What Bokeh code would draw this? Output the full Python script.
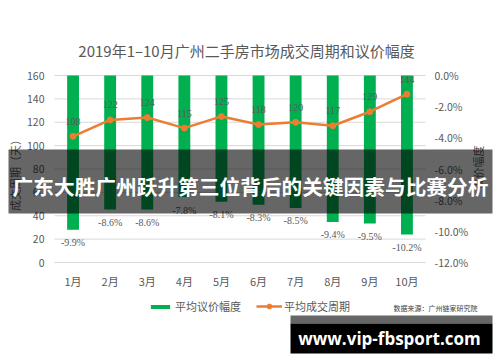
from bokeh.plotting import figure
from bokeh.models import (Range1d, LinearAxis, FixedTicker, NumeralTickFormatter, ColumnDataSource,
                          LabelSet, Label, BoxAnnotation, Legend, LegendItem, CustomJSTickFormatter)
from bokeh.embed import file_html
from bokeh.resources import INLINE

months = ["1月", "2月", "3月", "4月", "5月", "6月", "7月", "8月", "9月", "10月"]
cycle_days = [108, 122, 124, 115, 125, 118, 120, 117, 129, 144]
discount_pct = [-9.9, -8.6, -8.6, -7.8, -8.1, -8.3, -8.5, -9.4, -9.5, -10.2]
left_ticks = [0, 20, 40, 60, 80, 100, 120, 140, 160]
right_ticks = [-12, -10, -8, -6, -4, -2, 0]

title_text = "2019年1–10月广州二手房市场成交周期和议价幅度"
left_title = "成交周期（天）"
right_title = "议价幅度"
legend_bar = "平均议价幅度"
legend_line = "平均成交周期"
banner_text = "广东大胜广州跃升第三位背后的关键因素与比赛分析"
source_text = "数据来源：广州链家研究院"
watermark_text = "www.vip-fbsport.com"

FONT = "Noto Sans CJK SC"
GRAY = "#595959"
GREEN = "#00B050"
ORANGE = "#ED7D31"

W, H = 500, 362
# plot area inside the canvas (px)
PL, PR, PT, PB = 54, 425, 75, 262
n = len(months)
ux = (PR - PL) / n
uy = (PB - PT) / (left_ticks[-1] - left_ticks[0])
up = (PB - PT) / (right_ticks[-1] - right_ticks[0])

x_rng = Range1d(-PL / ux, n + (W - PR) / ux)
y_rng = Range1d(left_ticks[0] - (H - PB) / uy, left_ticks[-1] + PT / uy)
p_rng = Range1d((right_ticks[0] - (H - PB) / up) / 100, (right_ticks[-1] + PT / up) / 100)

src = ColumnDataSource(dict(
    x=[i + 0.5 for i in range(n)],
    cyc=cycle_days,
    disc=[d / 100 for d in discount_pct],
    cyc_lbl=[str(v) for v in cycle_days],
    disc_lbl=["%.1f%%" % d for d in discount_pct],
))

p = figure(width=W, height=H, x_range=x_rng, y_range=y_rng,
           output_backend="svg", toolbar_location=None,
           min_border_left=0, min_border_right=0, min_border_top=0, min_border_bottom=0)
p.outline_line_color = None
p.extra_y_ranges = {"pct": p_rng}
p.xgrid.visible = False
p.ygrid.visible = False

def style_axis(ax, size):
    ax.axis_line_color = None
    ax.major_tick_line_color = None
    ax.minor_tick_line_color = None
    ax.major_tick_out = 0
    ax.major_tick_in = 0
    ax.major_label_text_color = GRAY
    ax.major_label_text_font = FONT
    ax.major_label_text_font_size = size

xa = p.xaxis[0]
style_axis(xa, "11px")
xa.ticker = FixedTicker(ticks=[i + 0.5 for i in range(n)])
xa.formatter = CustomJSTickFormatter(args=dict(labels=months),
                                     code="return labels[Math.floor(tick)] || ''")
xa.major_label_standoff = -90

ya = p.yaxis[0]
style_axis(ya, "10.5px")
ya.ticker = FixedTicker(ticks=left_ticks)
ya.major_label_standoff = -44

rax = LinearAxis(y_range_name="pct", ticker=FixedTicker(ticks=[t / 100 for t in right_ticks]),
                 formatter=NumeralTickFormatter(format="0.0%"))
style_axis(rax, "10.5px")
rax.major_label_standoff = -66
p.add_layout(rax, "right")

# horizontal gridlines over the plot area only
p.segment(x0=0, x1=n, y0=left_ticks, y1=left_ticks, line_color="#D9D9D9", line_width=1)

bars = p.vbar(x="x", top=0, bottom="disc", width=0.32, source=src, y_range_name="pct",
              fill_color=GREEN, line_color=None)
line = p.line(x="x", y="cyc", source=src, line_color=ORANGE, line_width=2.5)
pts = p.scatter(x="x", y="cyc", source=src, size=6, fill_color=ORANGE, line_color=ORANGE)

p.add_layout(LabelSet(x="x", y="cyc", text="cyc_lbl", source=src, y_offset=15,
                      text_align="center", text_baseline="middle", text_font=FONT,
                      text_font_size="10px", text_color=GRAY))
p.add_layout(LabelSet(x="x", y="disc", text="disc_lbl", source=src, y_range_name="pct", y_offset=-13,
                      text_align="center", text_baseline="middle", text_font=FONT,
                      text_font_size="10px", text_color=GRAY))

def txt(x, y, text, size, color=GRAY, align="center", font=FONT, style="normal", angle=0):
    return Label(x=x, y=H - y, x_units="screen", y_units="screen", text=text,
                 text_align=align, text_baseline="middle", text_font=font,
                 text_font_size=size, text_font_style=style, text_color=color,
                 angle=angle, angle_units="deg")

# title and axis titles
p.add_layout(txt(246, 50, title_text, "15px"))
p.add_layout(txt(14, 172, left_title, "11px", angle=90))
p.add_layout(txt(477, 167, right_title, "11px", angle=90))

# legends
leg1 = Legend(items=[LegendItem(label=legend_bar, renderers=[bars])],
              location=(148, H - 314), orientation="horizontal", glyph_width=24, glyph_height=5,
              label_height=5, label_standoff=3, padding=0, margin=0, spacing=0,
              border_line_color=None, background_fill_alpha=0,
              label_text_font=FONT, label_text_font_size="11px", label_text_color=GRAY)
leg2 = Legend(items=[LegendItem(label=legend_line, renderers=[line, pts])],
              location=(256, H - 314), orientation="horizontal", glyph_width=26, glyph_height=12,
              label_height=12, label_standoff=2, padding=0, margin=0, spacing=0,
              border_line_color=None, background_fill_alpha=0,
              label_text_font=FONT, label_text_font_size="11px", label_text_color=GRAY)
p.add_layout(leg1, "center")
p.add_layout(leg2, "center")

p.add_layout(txt(393, 307, source_text, "7px", color="#404040", align="left"))

# banner overlay
p.add_layout(BoxAnnotation(left=8, right=492, top=H - 149, bottom=H - 213,
                           left_units="screen", right_units="screen", top_units="screen",
                           bottom_units="screen", fill_color="black", fill_alpha=0.6,
                           line_alpha=0))
p.add_layout(txt(250, 185, banner_text, "20.7px", color="white", style="bold"))

# watermark
p.add_layout(BoxAnnotation(left=290, right=492, top=H - 315, bottom=H - 323,
                           left_units="screen", right_units="screen", top_units="screen",
                           bottom_units="screen", fill_color="#666666", fill_alpha=1,
                           line_alpha=0))
p.add_layout(BoxAnnotation(left=290, right=492, top=H - 323, bottom=H - 353,
                           left_units="screen", right_units="screen", top_units="screen",
                           bottom_units="screen", fill_color="black", fill_alpha=1,
                           line_alpha=0))
p.add_layout(txt(389, 338, watermark_text, "17px", color="white", font="Open Sans", style="bold"))

open("out.html", "w").write(file_html(p, INLINE))
